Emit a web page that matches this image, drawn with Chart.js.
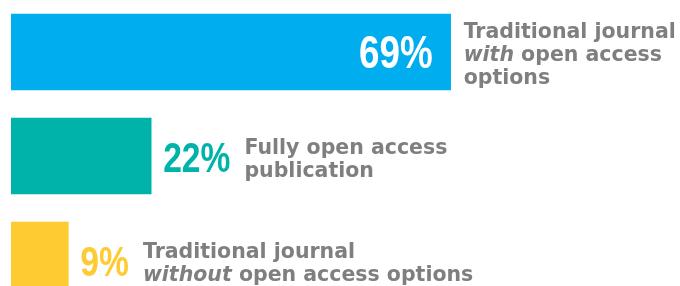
<!DOCTYPE html>
<html lang="en">
   <head>
      <meta charset="UTF-8" />
      <script src="https://cdn.jsdelivr.net/npm/chart.js@4.4.0/dist/chart.umd.min.js"></script>
      <title>Open access options</title>
      <style>
         html, body { margin: 0; padding: 0; background: #fff; overflow: hidden; }
         #chart-wrap { position: relative; width: 680px; height: 312px; }
      </style>
   </head>
   <body>
      <div id="chart-wrap">
         <canvas id="chart"></canvas>
      </div>
      <script>
         // data
         const categories = ['with open access', 'fully open access', 'without open access'];
         const shares = [69, 22, 9];
         const pctLabels = ['69%', '22%', '9%'];
         // _word_ = italic
         const descLines = [
            ['Traditional journal', '_with_ open access', 'options'],
            ['Fully open access', 'publication'],
            ['Traditional journal', '_without_ open access options'],
         ];
         const barColors = ['#00aeef', '#00b3aa', '#ffcb33'];

         const textGrey = '#7f7f7f';
         const descFont = '"DejaVu Sans", "Open Sans", sans-serif';
         const pctFont = '"Liberation Sans", Arial, sans-serif';

         function drawPct(ctx, txt, x, y, size, align) {
            const squeeze = 0.8;
            ctx.save();
            ctx.font = 'bold ' + size + 'px ' + pctFont;
            const w = ctx.measureText(txt).width * squeeze;
            const left = align === 'right' ? x - w : x;
            ctx.translate(left, y);
            ctx.scale(squeeze, 1);
            ctx.textAlign = 'left';
            ctx.textBaseline = 'alphabetic';
            ctx.fillText(txt, 0, 0);
            ctx.restore();
            return left + w;
         }

         function drawLine(ctx, line, x, y) {
            const parts = line.split('_');
            let cx = x;
            parts.forEach((p, i) => {
               if (!p) return;
               ctx.font = (i % 2 ? 'italic ' : '') + 'bold 20.5px ' + descFont;
               ctx.fillText(p, cx, y);
               cx += ctx.measureText(p).width;
            });
         }

         const labelPlugin = {
            id: 'barLabels',
            afterDatasetsDraw(chart) {
               const ctx = chart.ctx;
               const meta = chart.getDatasetMeta(0);
               meta.data.forEach((bar, i) => {
                  const cy = bar.y;
                  let textX;
                  if (i === 0) {
                     ctx.fillStyle = '#ffffff';
                     drawPct(ctx, pctLabels[i], bar.x - 18, cy + 16, 46, 'right');
                     textX = bar.x + 13;
                  } else {
                     ctx.fillStyle = barColors[i];
                     const end = drawPct(ctx, pctLabels[i], bar.x + 12, cy + 16, 42, 'left');
                     textX = end + 14;
                  }
                  const lines = descLines[i];
                  const lh = 23;
                  let y = cy + 9 - (lines.length - 1) * lh / 2;
                  ctx.save();
                  ctx.fillStyle = textGrey;
                  ctx.textAlign = 'left';
                  ctx.textBaseline = 'alphabetic';
                  lines.forEach(l => {
                     drawLine(ctx, l, textX, y);
                     y += lh;
                  });
                  ctx.restore();
               });
            }
         };

         const ctx = document.getElementById('chart').getContext('2d');
         const chart = new Chart(ctx, {
            type: 'bar',
            data: {
               labels: categories,
               datasets: [
                  {
                     data: shares,
                     backgroundColor: barColors,
                     borderWidth: 0,
                     barThickness: 76,
                  },
               ],
            },
            options: {
               indexAxis: 'y',
               responsive: true,
               maintainAspectRatio: false,
               animation: false,
               layout: { padding: { left: 11, right: 0, top: -3, bottom: 0 } },
               plugins: {
                  legend: { display: false },
                  tooltip: { enabled: false },
               },
               scales: {
                  x: { display: false, min: 0, max: 105 },
                  y: { display: false, grid: { display: false } },
               },
            },
            plugins: [labelPlugin],
         });
      </script>
   </body>
</html>
